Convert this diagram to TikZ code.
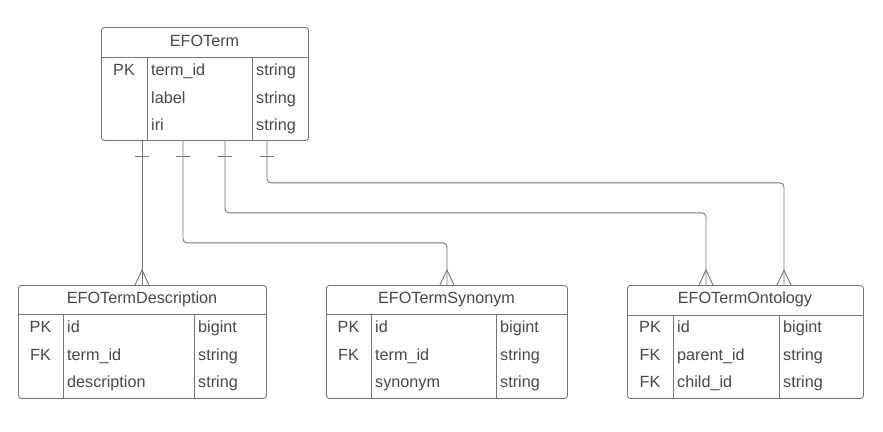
\documentclass[tikz,border=0pt]{standalone}
\usepackage{fontspec}
\setmainfont{Liberation Sans}
\definecolor{lc}{HTML}{717379}
\definecolor{tc}{HTML}{474747}
\begin{document}
\begin{tikzpicture}[x=1pt,y=-1pt,
  tbl/.style={draw=lc, line width=0.9pt, rounded corners=3pt, anchor=north west, inner sep=0pt},
  sep/.style={draw=lc, line width=0.9pt},
  conn/.style={draw=lc, line width=0.9pt, rounded corners=4pt},
  txt/.style={text=tc, font=\fontsize{16.2}{19}\selectfont, inner sep=0pt},
  fld/.style={txt, anchor=base west},
  key/.style={txt, anchor=base},
  ttl/.style={txt, anchor=base}]
\useasboundingbox (0,0) rectangle (883,431);

% ---------- EFOTerm ----------
\node[tbl, minimum width=207pt, minimum height=113pt] (efo) at (101,27) {};
\draw[sep] (101,57) -- (308,57);
\draw[sep] (147,57) -- (147,140);
\draw[sep] (252,57) -- (252,140);
\node[ttl] (efoT) at (204.5,46.5) {EFOTerm};
\node[key] (efoK1) at (124,75.5) {PK};
\node[fld] (efoF1) at (151,75.5) {term\_id};
\node[fld] (efoF2) at (151,103) {label};
\node[fld] (efoF3) at (151,130.5) {iri};
\node[fld] (efoY1) at (256,75.5) {string};
\node[fld] (efoY2) at (256,103) {string};
\node[fld] (efoY3) at (256,130.5) {string};

% ---------- EFOTermDescription ----------
\node[tbl, minimum width=248pt, minimum height=113pt] (desc) at (18,285) {};
\draw[sep] (18,314) -- (266,314);
\draw[sep] (63,314) -- (63,398);
\draw[sep] (194,314) -- (194,398);
\node[ttl] (descT) at (142,303.5) {EFOTermDescription};
\node[key] (descK1) at (40.5,332.5) {PK};
\node[key] (descK2) at (40.5,360) {FK};
\node[fld] (descF1) at (67,332.5) {id};
\node[fld] (descF2) at (67,360) {term\_id};
\node[fld] (descF3) at (67,387.5) {description};
\node[fld] (descY1) at (198,332.5) {bigint};
\node[fld] (descY2) at (198,360) {string};
\node[fld] (descY3) at (198,387.5) {string};

% ---------- EFOTermSynonym ----------
\node[tbl, minimum width=241pt, minimum height=113pt] (syn) at (326,285) {};
\draw[sep] (326,314) -- (567,314);
\draw[sep] (371,314) -- (371,398);
\draw[sep] (496,314) -- (496,398);
\node[ttl] (synT) at (446.5,303.5) {EFOTermSynonym};
\node[key] (synK1) at (348.5,332.5) {PK};
\node[key] (synK2) at (348.5,360) {FK};
\node[fld] (synF1) at (375,332.5) {id};
\node[fld] (synF2) at (375,360) {term\_id};
\node[fld] (synF3) at (375,387.5) {synonym};
\node[fld] (synY1) at (500,332.5) {bigint};
\node[fld] (synY2) at (500,360) {string};
\node[fld] (synY3) at (500,387.5) {string};

% ---------- EFOTermOntology ----------
\node[tbl, minimum width=236pt, minimum height=113pt] (onto) at (627,285) {};
\draw[sep] (627,315) -- (863,315);
\draw[sep] (673,315) -- (673,398);
\draw[sep] (779,315) -- (779,398);
\node[ttl] (ontoT) at (745,303.5) {EFOTermOntology};
\node[key] (ontoK1) at (650,332.5) {PK};
\node[key] (ontoK2) at (650,360) {FK};
\node[key] (ontoK3) at (650,387.5) {FK};
\node[fld] (ontoF1) at (677,332.5) {id};
\node[fld] (ontoF2) at (677,360) {parent\_id};
\node[fld] (ontoF3) at (677,387.5) {child\_id};
\node[fld] (ontoY1) at (783,332.5) {bigint};
\node[fld] (ontoY2) at (783,360) {string};
\node[fld] (ontoY3) at (783,387.5) {string};

% ---------- connectors ----------
\draw[conn] ([xshift=41pt]efo.south west) -- ([xshift=124pt]desc.north west);
\draw[conn] ([xshift=82pt]efo.south west) -- ++(0,102) -| ([xshift=121pt]syn.north west);
\draw[conn] ([xshift=124pt]efo.south west) -- ++(0,72) -| ([xshift=79pt]onto.north west);
\draw[conn] ([xshift=166pt]efo.south west) -- ++(0,42) -| ([xshift=157pt]onto.north west);

% one-marks
\foreach \s in {41,82,124,166}
  \draw[sep] ([xshift=\s pt-7pt,yshift=-16pt]efo.south west) -- ++(14,0);

% crow's feet
\draw[sep] ([xshift=117pt]desc.north west) -- ([xshift=124pt,yshift=15pt]desc.north west) -- ([xshift=131pt]desc.north west);
\draw[sep] ([xshift=114pt]syn.north west) -- ([xshift=121pt,yshift=15pt]syn.north west) -- ([xshift=128pt]syn.north west);
\draw[sep] ([xshift=72pt]onto.north west) -- ([xshift=79pt,yshift=15pt]onto.north west) -- ([xshift=86pt]onto.north west);
\draw[sep] ([xshift=150pt]onto.north west) -- ([xshift=157pt,yshift=15pt]onto.north west) -- ([xshift=164pt]onto.north west);
\end{tikzpicture}
\end{document}
